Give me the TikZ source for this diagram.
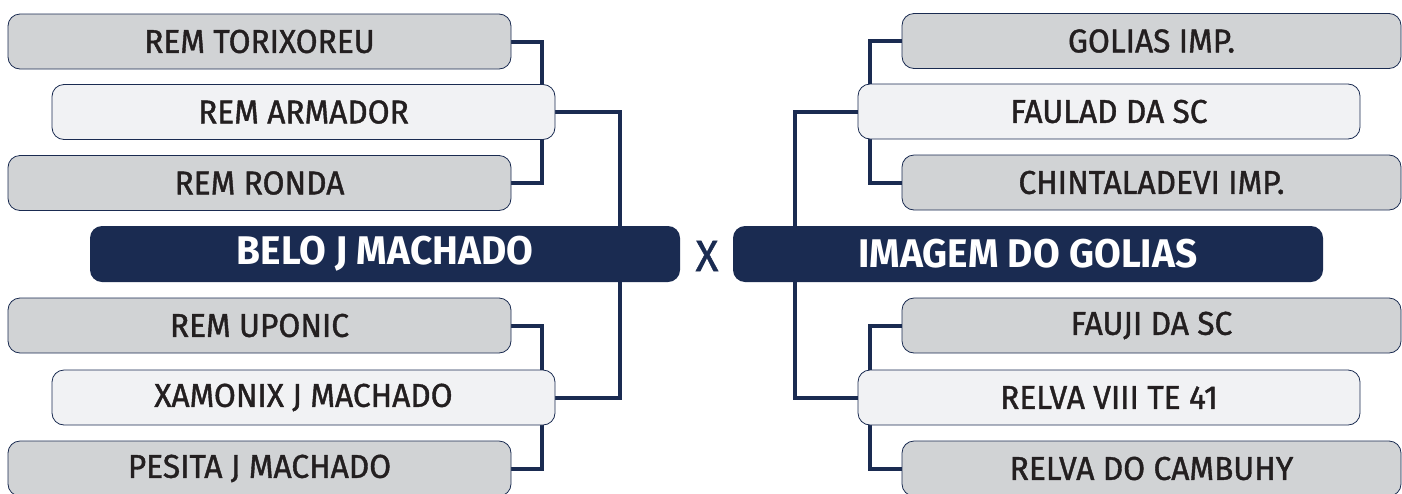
\documentclass[tikz,border=0pt]{standalone}
\usepackage{fontspec}
\setmainfont{Fira Sans}
\newfontfamily\teamfont{Fira Sans}[FakeStretch=0.96,FakeBold=1.2]
\newfontfamily\finalfont{Fira Sans}[BoldFeatures={FakeStretch=0.97}]
\usetikzlibrary{backgrounds}
\definecolor{navy}{HTML}{1A2B51}
\definecolor{boxgray}{HTML}{D1D3D5}
\definecolor{boxlight}{HTML}{F1F2F4}
\definecolor{txt}{HTML}{231F20}
\begin{document}
\begin{tikzpicture}[x=1pt,y=-1pt,
  team/.style={draw=navy,line width=0.8pt,rounded corners=12pt,minimum height=55pt,
    inner sep=0pt,text=txt,font=\teamfont\fontsize{33}{33}\selectfont},
  grayteam/.style={team,fill=boxgray,minimum width=503pt},
  lightteam/.style={team,fill=boxlight,minimum width=503pt},
  finalist/.style={fill=navy,rounded corners=12pt,minimum width=590pt,minimum height=56pt,
    inner sep=0pt,text=white,font=\finalfont\fontsize{40}{40}\selectfont\bfseries},
  link/.style={draw=navy,line width=4pt}]
\useasboundingbox (0,0) rectangle (1402,493);
% left bracket
\node[grayteam]  (t1) at (259.5,41.5) {REM TORIXOREU};
\node[lightteam] (t2) at (303.5,112)  {REM ARMADOR};
\node[grayteam]  (t3) at (259.5,183)  {REM RONDA};
\node[finalist]  (L)  at (385,254)    {BELO J MACHADO};
\node[grayteam]  (t4) at (259.5,325.5){REM UPONIC};
\node[lightteam] (t5) at (303.5,397.5){XAMONIX J MACHADO};
\node[grayteam]  (t6) at (259.5,468.5){PESITA J MACHADO};
% right bracket
\node[grayteam,minimum width=499pt]  (g1) at (1151.5,41)   {GOLIAS IMP.};
\node[lightteam,minimum width=502pt] (g2) at (1109,111.5)  {FAULAD DA SC};
\node[grayteam,minimum width=499pt]  (g3) at (1151.5,182.5){CHINTALADEVI IMP.};
\node[finalist]  (R)  at (1028,254)   {IMAGEM DO GOLIAS};
\node[grayteam,minimum width=499pt]  (g4) at (1151.5,325.5){FAUJI DA SC};
\node[lightteam,minimum width=502pt] (g5) at (1109,397.5)  {RELVA VIII TE 41};
\node[grayteam,minimum width=499pt]  (g6) at (1151.5,468.5){RELVA DO CAMBUHY};
\node[text=navy,font=\teamfont\fontsize{44}{44}\selectfont] (vs) at (707,256) {X};
\begin{pgfonlayer}{background}
\draw[link] (t1.east) -- ++(31,0) |- (t3.east);
\draw[link] (t4.east) -- ++(31,0) |- (t6.east);
\draw[link] (t2.east) -- ++(65,0) |- (t5.east);
\draw[link] (g1.west) -- ++(-32,0) |- (g3.west);
\draw[link] (g4.west) -- ++(-32,0) |- (g6.west);
\draw[link] (g2.west) -- ++(-63,0) |- (g5.west);
\end{pgfonlayer}
\end{tikzpicture}
\end{document}
